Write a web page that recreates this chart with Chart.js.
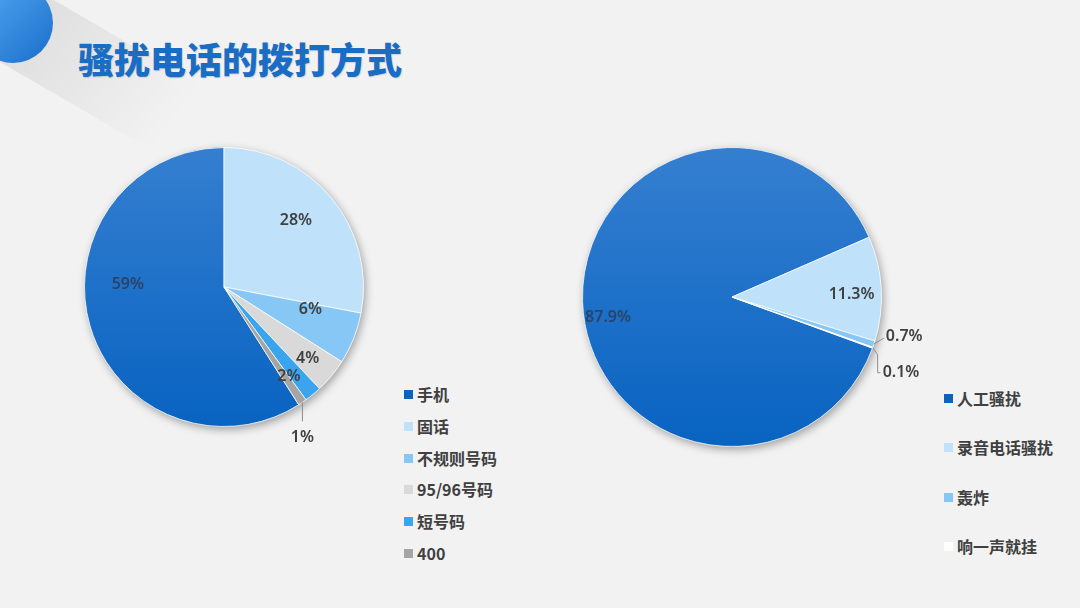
<!DOCTYPE html>
<html>
<head>
<meta charset="utf-8">
<script src="https://cdn.jsdelivr.net/npm/chart.js@4.4.1/dist/chart.umd.min.js"></script>
<style>
    html, body { margin: 0; padding: 0; }
    body {
        width: 1080px; height: 608px; overflow: hidden; position: relative;
        background: #f2f2f2;
        font-family: "Noto Sans CJK SC", "Noto Sans", sans-serif;
    }
    #deco { position: absolute; left: 0; top: 0; }
    #title {
        position: absolute; left: 78px; top: 38px; margin: 0;
        font-size: 36px; line-height: 40px; font-weight: 900; color: #1a6dc4;
        letter-spacing: 0px;
        text-shadow: 1px 1px 1px rgba(0, 0, 0, 0.12);
    }
    .box { position: absolute; }
    .legend { position: absolute; margin: 0; padding: 0; list-style: none; }
    .legend li {
        position: absolute; left: 0; white-space: nowrap;
        font-size: 16px; font-weight: 700; color: #404040; line-height: 20px;
    }
    .legend li span {
        position: absolute; left: 0; top: 6px; width: 9px; height: 9px;
    }
    .legend li b { position: absolute; left: 13px; top: 0; font-weight: 700; }
</style>
</head>
<body>
<svg id="deco" width="260" height="200">
    <defs>
        <linearGradient id="shade" x1="0" y1="0" x2="1" y2="0.6">
            <stop offset="0" stop-color="rgba(0,0,0,0.10)"/>
            <stop offset="1" stop-color="rgba(0,0,0,0)"/>
        </linearGradient>
        <linearGradient id="ball" x1="0" y1="0" x2="1" y2="1">
            <stop offset="0" stop-color="#55adf2"/>
            <stop offset="1" stop-color="#1a6dcc"/>
        </linearGradient>
    </defs>
    <polygon points="33,-12 200,85 160,155 -7,58" fill="url(#shade)"/>
    <circle cx="13" cy="23" r="40" fill="url(#ball)"/>
</svg>
<h1 id="title">骚扰电话的拨打方式</h1>

<div class="box" style="left:64px; top:127px; width:320px; height:330px;">
    <canvas id="leftPie" width="320" height="330"></canvas>
</div>
<ul class="legend" id="leftLegend" style="left:404px; top:384px;"></ul>

<div class="box" style="left:562px; top:127px; width:372px; height:340px;">
    <canvas id="rightPie" width="372" height="340"></canvas>
</div>
<ul class="legend" id="rightLegend" style="left:944px; top:388px;"></ul>

<script>
// left pie: dialing number type
const leftLabels = ['手机', '固话', '不规则号码', '95/96号码', '短号码', '400'];
const leftValues = [59, 28, 6, 4, 2, 1];
const leftColors = ['#0f67c4', '#bfe1fa', '#86c7f5', '#d9d9d9', '#3aa4ef', '#a5a5a5'];

// right pie: harassment type
const rightLabels = ['人工骚扰', '录音电话骚扰', '轰炸', '响一声就挂'];
const rightValues = [87.9, 11.3, 0.7, 0.1];
const rightColors = ['#0f67c4', '#bfe1fa', '#86c7f5', '#ffffff'];

// label placement per slice: [radius fraction, angle shift in degrees] or leader line setup
const leftLabelLayout = [
    { r: 0.69, shift: 18 },
    { r: 0.70, shift: -3 },
    { r: 0.64, shift: -7 },
    { r: 0.79, shift: 1 },
    { r: 0.79, shift: 3.5 },
    { leader: [[0, 0], [0, 19]], text: [0, 35], align: 'center' }
];
const rightLabelLayout = [
    { r: 0.84, shift: -7.4 },
    { r: 0.80, shift: 2 },
    { leader: [[0, 0], [10, -6]], text: [12, -8], align: 'left' },
    { leader: [[0, 0], [5, 7], [5, 25], [8, 25]], text: [10, 25], align: 'left' }
];

const blueGradient = (ctx, fallback) => {
    const area = ctx.chart.chartArea;
    if (!area) return fallback;
    const g = ctx.chart.ctx.createLinearGradient(0, area.top, 0, area.bottom);
    g.addColorStop(0, '#357fd0');
    g.addColorStop(1, '#0863c1');
    return g;
};

// soft drop shadow under the whole pie
const pieShadow = {
    id: 'pieShadow',
    beforeDatasetsDraw(chart) {
        const arc = chart.getDatasetMeta(0).data[0];
        if (!arc) return;
        const ctx = chart.ctx;
        ctx.save();
        ctx.shadowColor = 'rgba(0, 0, 0, 0.35)';
        ctx.shadowBlur = 8;
        ctx.shadowOffsetX = 2;
        ctx.shadowOffsetY = 3;
        ctx.fillStyle = '#dddddd';
        ctx.beginPath();
        ctx.arc(arc.x, arc.y, arc.outerRadius, 0, Math.PI * 2);
        ctx.fill();
        ctx.restore();
    }
};

// percentage labels
const pieLabels = {
    id: 'pieLabels',
    afterDatasetsDraw(chart, args, opts) {
        const ctx = chart.ctx;
        const meta = chart.getDatasetMeta(0);
        const values = chart.data.datasets[0].data;
        ctx.save();
        ctx.font = '600 16px "Noto Sans", "Open Sans", sans-serif';
        ctx.textBaseline = 'middle';
        meta.data.forEach((arc, i) => {
            const lay = opts.layout[i];
            const text = opts.format(values[i]);
            const mid = (arc.startAngle + arc.endAngle) / 2;
            if (lay.leader) {
                const ex = arc.x + Math.cos(mid) * arc.outerRadius;
                const ey = arc.y + Math.sin(mid) * arc.outerRadius;
                ctx.strokeStyle = '#8c8c8c';
                ctx.lineWidth = 1;
                ctx.beginPath();
                lay.leader.forEach(([dx, dy], k) => {
                    if (k === 0) ctx.moveTo(ex + dx, ey + dy);
                    else ctx.lineTo(ex + dx, ey + dy);
                });
                ctx.stroke();
                ctx.fillStyle = '#404040';
                ctx.textAlign = lay.align;
                ctx.fillText(text, ex + lay.text[0], ey + lay.text[1]);
            } else {
                const a = mid + lay.shift * Math.PI / 180;
                const rr = arc.outerRadius * lay.r;
                ctx.fillStyle = i === 0 ? 'rgba(45, 60, 85, 0.85)' : '#404040';
                ctx.textAlign = 'center';
                ctx.fillText(text, arc.x + Math.cos(a) * rr, arc.y + Math.sin(a) * rr);
            }
        });
        ctx.restore();
    }
};

const makePie = (id, labels, values, colors, rotation, padding, layout, format) => {
    const ctx = document.getElementById(id).getContext('2d');
    return new Chart(ctx, {
        type: 'pie',
        data: {
            labels: labels,
            datasets: [{
                data: values,
                backgroundColor: c => c.dataIndex === 0 ? blueGradient(c, colors[0]) : colors[c.dataIndex],
                borderColor: 'rgba(255, 255, 255, 0.75)',
                borderWidth: 1
            }]
        },
        options: {
            responsive: false,
            animation: false,
            rotation: rotation,
            layout: { padding: padding },
            plugins: {
                legend: { display: false },
                tooltip: { enabled: false },
                pieLabels: { layout: layout, format: format }
            }
        },
        plugins: [pieShadow, pieLabels]
    });
};

const sum = arr => arr.reduce((a, b) => a + b, 0);

// first slice ends at 12 o'clock on the left pie
makePie('leftPie', leftLabels, leftValues, leftColors,
    360 - 360 * leftValues[0] / sum(leftValues),
    { left: 20, right: 20, top: 20, bottom: 30 },
    leftLabelLayout, v => v + '%');

makePie('rightPie', rightLabels, rightValues, rightColors,
    110,
    { left: 20, right: 52, top: 20, bottom: 20 },
    rightLabelLayout, v => v.toFixed(1) + '%');

// legends
const buildLegend = (id, labels, colors, step) => {
    const ul = document.getElementById(id);
    labels.forEach((label, i) => {
        const li = document.createElement('li');
        li.style.top = (i * step) + 'px';
        const sw = document.createElement('span');
        sw.style.background = colors[i];
        const txt = document.createElement('b');
        txt.textContent = label;
        li.appendChild(sw);
        li.appendChild(txt);
        ul.appendChild(li);
    });
};
buildLegend('leftLegend', leftLabels, ['#0a63bf', '#bfe1fa', '#86c7f5', '#d9d9d9', '#3aa4ef', '#a5a5a5'], 31.8);
buildLegend('rightLegend', rightLabels, ['#0a63bf', '#bfe1fa', '#86c7f5', '#ffffff'], 49.3);
</script>
</body>
</html>
